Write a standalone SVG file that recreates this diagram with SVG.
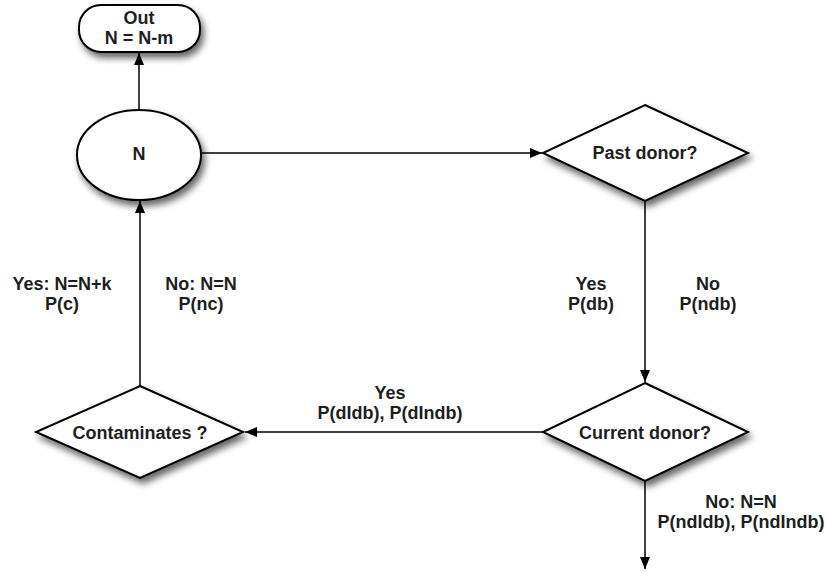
<svg xmlns="http://www.w3.org/2000/svg" width="827" height="573" viewBox="0 0 827 573">
<defs>
<filter id="sh" x="-20%" y="-20%" width="150%" height="160%">
<feDropShadow dx="3" dy="5" stdDeviation="3.5" flood-color="#000" flood-opacity="0.6"/>
</filter>
<marker id="ar" viewBox="0 0 12 10" refX="12" refY="5" markerWidth="12" markerHeight="10" markerUnits="userSpaceOnUse" orient="auto">
<path d="M0,0 L12,5 L0,10 z" fill="#000"/>
</marker>
</defs>
<style>
.s{fill:#fff;stroke:#000;stroke-width:2;filter:url(#sh)}
.c{fill:none;stroke:#000;stroke-width:1.5;marker-end:url(#ar)}
text{font-family:"Liberation Sans",Arial,sans-serif;font-weight:bold;font-size:18px;fill:#1e1e1e;text-anchor:middle}
</style>
<rect width="827" height="573" fill="#fff"/>
<g id="connectors">
<line class="c" x1="139" y1="110" x2="139" y2="53"/>
<line class="c" x1="202" y1="153" x2="542" y2="153"/>
<line class="c" x1="645" y1="201" x2="645" y2="382"/>
<line class="c" x1="543" y1="432" x2="245" y2="432"/>
<line class="c" x1="140" y1="386" x2="140" y2="201"/>
<line class="c" x1="645" y1="481" x2="645" y2="569"/>
<text x="62" y="290">Yes: N=N+k</text>
<text x="62" y="310">P(c)</text>
<text x="201" y="290">No: N=N</text>
<text x="201" y="310">P(nc)</text>
<text x="591" y="290">Yes</text>
<text x="591" y="310">P(db)</text>
<text x="708" y="290">No</text>
<text x="708" y="310">P(ndb)</text>
<text x="390" y="399">Yes</text>
<text x="390" y="419">P(dIdb), P(dIndb)</text>
<text x="741" y="508">No: N=N</text>
<text x="741" y="528">P(ndIdb), P(ndIndb)</text>
</g>
<g id="out">
<rect class="s" x="79" y="5" width="121" height="47" rx="22" ry="22"/>
<text x="139" y="24">Out</text>
<text x="139" y="44">N = N-m</text>
</g>
<g id="n">
<ellipse class="s" cx="139" cy="155" rx="62" ry="45"/>
<text x="139" y="160">N</text>
</g>
<g id="past">
<polygon class="s" points="645,105 748,153 645,201 543,153"/>
<text x="645" y="159">Past donor?</text>
</g>
<g id="current">
<polygon class="s" points="645,383 748,432 645,481 543,432"/>
<text x="645" y="439">Current donor?</text>
</g>
<g id="contaminates">
<polygon class="s" points="140,386 243,432 140,478 36,432"/>
<text x="140" y="439">Contaminates ?</text>
</g>
</svg>
